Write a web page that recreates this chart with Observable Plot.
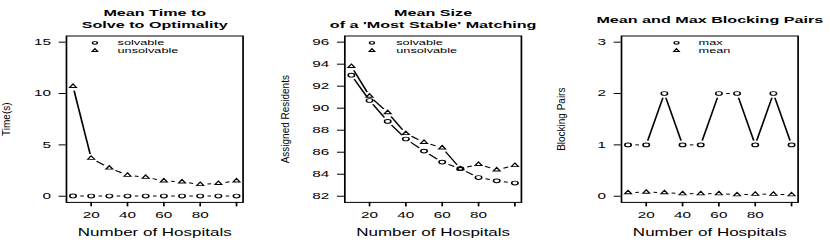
<!DOCTYPE html>
<html><head><meta charset="utf-8">
<script src="https://cdn.jsdelivr.net/npm/d3@7"></script>
<script src="https://cdn.jsdelivr.net/npm/@observablehq/plot@0.6"></script>
<style>
body{margin:0;background:#fff;}
#row{display:flex;width:830px;height:248px;overflow:hidden;}
#row svg{display:block;flex:none;}
</style></head><body><div id="row"></div>
<script>
// ---- data ----
const hospitals = [10, 20, 30, 40, 50, 60, 70, 80, 90, 100];
const timeSolvable = [0.03, 0.02, 0.02, 0.02, 0.02, 0.02, 0.02, 0.02, 0.02, 0.02];
const timeUnsolvable = [10.7, 3.7, 2.75, 2.05, 1.85, 1.5, 1.4, 1.15, 1.25, 1.5];
const sizeSolvable = [93.0, 90.7, 88.8, 87.2, 86.1, 85.1, 84.5, 83.7, 83.4, 83.2];
const sizeUnsolvable = [93.8, 91.1, 89.6, 87.7, 86.9, 86.4, 84.5, 84.9, 84.4, 84.8];
const bpMax = [1, 1, 2, 1, 1, 2, 2, 1, 2, 1];
const bpMean = [0.07, 0.08, 0.07, 0.05, 0.05, 0.05, 0.03, 0.04, 0.04, 0.03];

const xTicks = [20, 40, 60, 80, 100];
const xTickLabels = ["20", "40", "60", "80", ""];
const timeTicks = [0, 5, 10, 15];
const sizeTicks = [82, 84, 86, 88, 90, 92, 94, 96];
const bpTicks = [0, 1, 2, 3];

const titleLines = [["Mean Time to", "Solve to Optimality"], ["Mean Size", "of a 'Most Stable' Matching"], ["Mean and Max Blocking Pairs"]];
const yLabels = ["Time(s)", "Assigned Residents", "Blocking Pairs"];
const xLabel = "Number of Hospitals";
const legendNames = [["solvable", "unsolvable"], ["solvable", "unsolvable"], ["max", "mean"]];

// ---- layout / style ----
const S = 1.7;               // horizontal stretch of the original rendering
const panelW = 830 / 3;
const W0 = panelW / S;
const H = 248;
const boxW = 176.6 / S;
const mt = 35.5, mb = 46.1;
const gap = 4.3;
const xDomain = [6.4, 103.6];

const panels = [
  {ticks: timeTicks, yDomain: [-0.6, 15.6], series: [timeSolvable, timeUnsolvable], ml: 38.6, leg: [-35.2, -21.9]},
  {ticks: sizeTicks, yDomain: [81.44, 96.56], series: [sizeSolvable, sizeUnsolvable], ml: 39.4, leg: [-36.0, -21.7]},
  {ticks: bpTicks, yDomain: [-0.12, 3.12], series: [bpMax, bpMean], ml: 39.8, leg: [-19.6, -6.6]}
];
const symbols = ["circle", "triangle"];
const symR = [1.9, 1.5];
const legR = [1.4, 1.2];
const legDy = [6.8, 14.5];
const titleY2 = [12.7, 24.0];  // two-line title centres
const titleY1 = 19.0;          // one-line title centre

function gapped(xs, ys, sx, sy) {
  const segs = [];
  for (let i = 0; i < xs.length - 1; i++) {
    const a = sx.apply(xs[i]), b = sy.apply(ys[i]);
    const c = sx.apply(xs[i + 1]), d = sy.apply(ys[i + 1]);
    const dx = c - a, dy = d - b, len = Math.hypot(dx, dy);
    if (len <= 2 * gap) continue;
    const ux = dx / len, uy = dy / len;
    segs.push({
      x1: sx.invert(a + ux * gap), y1: sy.invert(b + uy * gap),
      x2: sx.invert(c - ux * gap), y2: sy.invert(d - uy * gap)
    });
  }
  return segs;
}

const row = document.getElementById("row");
panels.forEach((p, k) => {
  const mr = W0 - p.ml - boxW;
  const xRange = [p.ml, W0 - mr];
  const yRange = [H - mb, mt];
  const sx = Plot.scale({x: {domain: xDomain, range: xRange}});
  const sy = Plot.scale({y: {domain: p.yDomain, range: yRange}});
  const marks = [];
  p.series.forEach((vals, j) => {
    const pts = hospitals.map((h, i) => ({x: h, y: vals[i]}));
    marks.push(Plot.link(gapped(hospitals, vals, sx, sy), {x1: "x1", y1: "y1", x2: "x2", y2: "y2", stroke: "black", strokeWidth: 1}));
    marks.push(Plot.dot(pts, {x: "x", y: "y", symbol: symbols[j], r: symR[j], stroke: "black", fill: "none", strokeWidth: 0.9}));
    marks.push(Plot.dot([0], {frameAnchor: "top", dx: p.leg[0], dy: legDy[j], symbol: symbols[j], r: legR[j], stroke: "black", fill: "none", strokeWidth: 0.9}));
    marks.push(Plot.text([legendNames[k][j]], {text: d => d, frameAnchor: "top", dx: p.leg[1], dy: legDy[j], textAnchor: "start", lineAnchor: "middle", fontSize: 7.5, fill: "black"}));
  });
  marks.push(Plot.frame({stroke: "black", strokeWidth: 1}));
  marks.push(Plot.axisY({ticks: p.ticks, tickFormat: d => `${d}`, tickSize: 4.1, tickPadding: 5, label: null}));
  marks.push(Plot.axisX({ticks: xTicks, tickFormat: d => xTickLabels[xTicks.indexOf(d)], tickSize: 4.5, tickPadding: 5, label: null}));
  const lines = titleLines[k];
  lines.forEach((line, j) => {
    const cy = lines.length === 1 ? titleY1 : titleY2[j];
    marks.push(Plot.text([line], {text: d => d, frameAnchor: "top", dy: cy - mt, textAnchor: "middle", lineAnchor: "middle", fontWeight: "bold", fontSize: 9.5, fill: "black"}));
  });
  marks.push(Plot.text([xLabel], {text: d => d, frameAnchor: "bottom", dy: 30.8, textAnchor: "middle", lineAnchor: "middle", fontSize: 10, fill: "black"}));
  marks.push(Plot.text([yLabels[k]], {text: d => d, frameAnchor: "left", dx: -35, rotate: -90, textAnchor: "middle", lineAnchor: "middle", fontSize: 10, fill: "black"}));

  const svg = Plot.plot({
    width: W0, height: H,
    marginLeft: p.ml, marginRight: mr, marginTop: mt, marginBottom: mb,
    x: {domain: xDomain, range: xRange},
    y: {domain: p.yDomain, range: yRange},
    style: {fontFamily: "'Liberation Sans', Arial, Helvetica, sans-serif", fontSize: "9px", color: "black", background: "white", overflow: "visible"},
    marks
  });
  // reproduce the horizontally stretched rendering
  svg.setAttribute("width", panelW);
  svg.setAttribute("height", H);
  svg.setAttribute("preserveAspectRatio", "none");
  svg.style.width = panelW + "px";
  svg.style.height = H + "px";
  svg.style.maxWidth = "none";
  // rotated labels keep their natural proportions
  svg.querySelectorAll("text").forEach(t => {
    const tr = t.getAttribute("transform");
    if (tr && tr.includes("rotate(-90)")) t.setAttribute("transform", tr + ` scale(1,${1 / S})`);
  });
  row.appendChild(svg);
});
</script></body></html>
